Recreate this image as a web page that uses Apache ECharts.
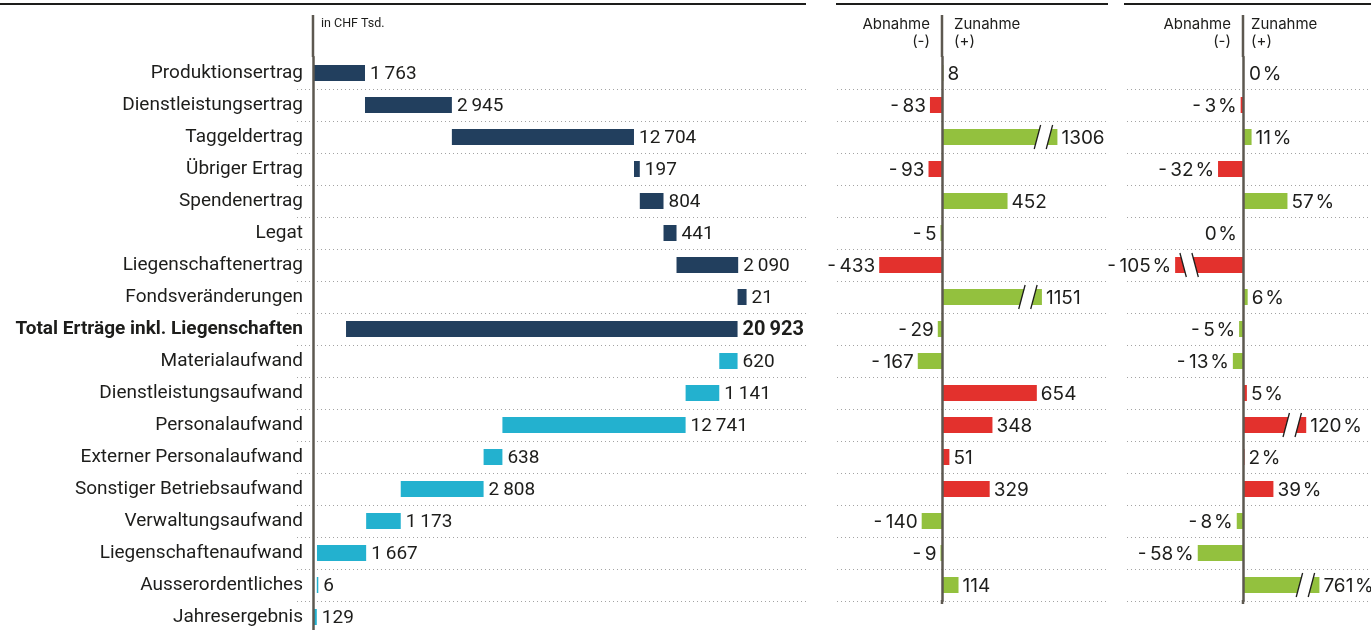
<!DOCTYPE html>
<html><head><meta charset="utf-8">
<script src="https://cdn.jsdelivr.net/npm/echarts@6/dist/echarts.min.js"></script>
<style>html,body{margin:0;padding:0;background:#fff}#c{width:1371px;height:630px}</style>
</head><body><div id="c"></div>
<script>
// ---------- data ----------
const categories = ['Produktionsertrag', 'Dienstleistungsertrag', 'Taggeldertrag', 'Übriger Ertrag', 'Spendenertrag', 'Legat', 'Liegenschaftenertrag', 'Fondsveränderungen', 'Total Erträge inkl. Liegenschaften', 'Materialaufwand', 'Dienstleistungsaufwand', 'Personalaufwand', 'Externer Personalaufwand', 'Sonstiger Betriebsaufwand', 'Verwaltungsaufwand', 'Liegenschaftenaufwand', 'Ausserordentliches', 'Jahresergebnis'];
const revenueValues = [1763, 2945, 12704, 197, 804, 441, 2090, -21]; // signed contributions (in CHF Tsd.)
const totalRevenue = 20923;
const totalBarStart = 1120; // where the total bar begins as drawn
const expenseValues = [620, 1141, 12741, 638, 2808, 1173, 1667, 6];
const resultValue = 129;
const changeAbs = [8, -83, 1306, -93, 452, -5, -433, 1151, -29, -167, 654, 348, 51, 329, -140, -9, 114];
const changePct = [0, -3, 11, -32, 57, 0, -105, 6, -5, -13, 5, 120, 2, 39, -8, -58, 761];
const favourable = [1, 0, 1, 0, 1, 1, 0, 1, 1, 1, 0, 0, 0, 0, 1, 1, 1];

// ---------- styles ----------
const NAVY = '#223f5e', CYAN = '#23b1cf', GREEN = '#93c13e', RED = '#e3312d';
const AXIS = '#5d5850', TXT = '#1d1d1b', DOT = '#a3a3a3';
const minBarPx = { 'Fondsveränderungen': 9 };
const leftBreaks = [{ start: 7000, end: 17000, gap: 3469 }];
const midBreaks = [{ start: 680, end: 1200, gap: 10 }];
const rightBreaks = [{ start: -100, end: -70, gap: 12 }, { start: 80, end: 800, gap: 19 }];

// ---------- waterfall rows ----------
const wf = [];
let cum = 0;
revenueValues.forEach(v => { wf.push([Math.min(cum, cum + v), Math.max(cum, cum + v), wf.length, Math.abs(v), 0]); cum += v; });
wf.push([totalBarStart, totalRevenue, wf.length, totalRevenue, 1]);
cum = totalRevenue;
expenseValues.forEach(v => { wf.push([cum - v, cum, wf.length, v, 2]); cum -= v; });
wf.push([0, resultValue, wf.length, resultValue, 2]);

function fmtT(n) { return String(Math.abs(n)).replace(/\B(?=(\d{3})+(?!\d))/g, '\u2009'); }
function fmtSigned(n) { return (n < 0 ? '-\u2009' : '') + Math.abs(n); }
function fmtPct(n) { return (n < 0 ? '-\u2009' : '') + Math.abs(n) + '\u200a%'; }

function txt(text, x, y, align, font) {
  return { type: 'text', style: { text, x, y, align, textAlign: align, verticalAlign: 'middle', textVerticalAlign: 'middle', font, fill: TXT } };
}

function renderWaterfall(params, api) {
  const idx = api.value(2);
  const p0 = api.coord([api.value(0), idx]);
  const p1 = api.coord([api.value(1), idx]);
  const h = api.size([0, 1])[1] * 0.5;
  const kind = api.value(4);
  const x0 = Math.min(p0[0], p1[0]);
  let w = Math.abs(p1[0] - p0[0]);
  const mw = minBarPx[categories[idx]] || 1.5;
  if (w < mw) w = mw;
  const font = (kind === 1 ? 'bold 20px' : '19px') + ' Roboto';
  return { type: 'group', children: [
    { type: 'rect', shape: { x: x0, y: p0[1] - h / 2, width: w, height: h }, style: { fill: kind === 2 ? CYAN : NAVY } },
    txt(fmtT(api.value(3)), x0 + w + 5, p0[1] + 1, 'left', font)
  ] };
}

function breakMark(end, yc, d, h) {
  const c1 = end - d * 8, c2 = end - d * 20, lean = 3.2, half = 12;
  const xs = (c, y) => c + d * lean * (yc - y) / half;
  const top = yc - h / 2, bot = yc + h / 2;
  const ln = c => ({ type: 'line', shape: { x1: xs(c, yc + half), y1: yc + half, x2: xs(c, yc - half), y2: yc - half }, style: { stroke: TXT, lineWidth: 1.3 } });
  return [
    { type: 'polygon', shape: { points: [[xs(c2, top), top], [xs(c1, top), top], [xs(c1, bot), bot], [xs(c2, bot), bot]] }, style: { fill: '#fff' } },
    ln(c1), ln(c2)
  ];
}

function makeChangeRender(values, fmt, breaks) {
  return function (params, api) {
    const i = api.value(1);
    const v = api.value(0);
    const p0 = api.coord([0, i]);
    const p1 = api.coord([v, i]);
    const h = api.size([0, 1])[1] * 0.5;
    const side = changeAbs[i] < 0 ? -1 : 1;
    const d = v < 0 ? -1 : 1;
    let w = Math.abs(p1[0] - p0[0]);
    if (v !== 0 && w < 1.5) w = 1.5;
    const end = p0[0] + d * w;
    const children = [];
    if (v !== 0) {
      children.push({ type: 'rect', shape: { x: Math.min(p0[0], end), y: p0[1] - h / 2, width: w, height: h }, style: { fill: favourable[i] ? GREEN : RED } });
      const broken = breaks.some(b => (b.start >= 0 && v > b.start) || (b.end <= 0 && v < b.end));
      if (broken) children.push(...breakMark(end, p0[1], d, h));
    }
    const lx = (v === 0 ? p0[0] + side * 2 : end) + side * 4;
    children.push(txt(fmt(v), lx, p0[1] + 1, side > 0 ? 'left' : 'right', '19px Inter'));
    return { type: 'group', children };
  };
}

const catsShort = categories.slice(0, changeAbs.length);
const hideAll = { axisLabel: { show: false }, axisTick: { show: false }, splitLine: { show: false }, axisLine: { show: false } };
const breakArea = { show: false, itemStyle: { opacity: 0, borderWidth: 0, color: 'rgba(0,0,0,0)', borderColor: 'rgba(0,0,0,0)' } };
function yAx(gridIndex, data, labels) {
  return {
    type: 'category', gridIndex, data, inverse: true,
    axisTick: { show: false },
    axisLine: { show: true, onZero: true, lineStyle: { color: AXIS, width: 2.5 } },
    axisLabel: labels ? {
      show: true, margin: -6, color: TXT, fontFamily: 'Roboto', fontSize: 19,
      formatter: v => v === categories[8] ? '{b|' + v + '}' : v,
      rich: { b: { fontWeight: 'bold', fontFamily: 'Roboto', fontSize: 19, color: TXT } }
    } : { show: false },
    splitLine: { show: true, interval: (index) => index > 0, lineStyle: { color: DOT, type: [1, 3], width: 1 } },
    z: 5
  };
}

const gridBase = { containLabel: false, outerBoundsMode: 'none' };
const chart = echarts.init(document.getElementById('c'), null, { renderer: 'canvas' });
chart.setOption({
  animation: false,
  backgroundColor: '#fff',
  grid: [
    Object.assign({ left: 297, top: 57, width: 509, height: 576 }, gridBase),
    Object.assign({ left: 837, top: 57, width: 269, height: 544 }, gridBase),
    Object.assign({ left: 1127, top: 57, width: 244, height: 544 }, gridBase)
  ],
  xAxis: [
    Object.assign({ type: 'value', gridIndex: 0, min: -542, max: 23243, breaks: leftBreaks, breakArea }, hideAll),
    Object.assign({ type: 'value', gridIndex: 1, min: -724, max: 1641, breaks: midBreaks, breakArea }, hideAll),
    Object.assign({ type: 'value', gridIndex: 2, min: -166.7, max: 865.1, breaks: rightBreaks, breakArea }, hideAll)
  ],
  yAxis: [yAx(0, categories, true), yAx(1, catsShort, false), yAx(2, catsShort, false)],
  series: [
    { type: 'custom', xAxisIndex: 0, yAxisIndex: 0, data: wf, encode: { x: [0, 1], y: 2 }, renderItem: renderWaterfall, z: 3 },
    { type: 'custom', xAxisIndex: 1, yAxisIndex: 1, data: changeAbs.map((v, i) => [v, i]), encode: { x: 0, y: 1 }, renderItem: makeChangeRender(changeAbs, fmtSigned, midBreaks), z: 3 },
    { type: 'custom', xAxisIndex: 2, yAxisIndex: 2, data: changePct.map((v, i) => [v, i]), encode: { x: 0, y: 1 }, renderItem: makeChangeRender(changePct, fmtPct, rightBreaks), z: 3 }
  ]
});

// decorations derived from the axes
const ax = [0, 1, 2].map(k => chart.convertToPixel({ xAxisIndex: k }, 0));
const gTop = 57;
const head = (text, x, y, align) => ({ type: 'text', z: 50, style: { text, x, y, align, textAlign: align, verticalAlign: 'middle', textVerticalAlign: 'middle', font: '15px Inter', fill: TXT } });
const hl = (x1, x2) => ({ type: 'line', z: 50, shape: { x1, y1: 4, x2, y2: 4 }, style: { stroke: TXT, lineWidth: 2 } });
const vl = (x, y1, y2) => ({ type: 'line', z: 50, shape: { x1: x, y1, x2: x, y2 }, style: { stroke: AXIS, lineWidth: 2.5 } });
chart.setOption({
  graphic: [
    hl(0, 806), hl(836, 1108), hl(1124, 1371),
    vl(ax[0], 15, gTop), vl(ax[1], 15, gTop), vl(ax[2], 15, gTop),
    vl(ax[1], 600, 604), vl(ax[2], 600, 604),
    { type: 'text', z: 50, style: { text: 'in CHF Tsd.', x: ax[0] + 8, y: 24, align: 'left', textAlign: 'left', verticalAlign: 'middle', textVerticalAlign: 'middle', font: '12.5px Roboto', fill: TXT } },
    head('Abnahme', ax[1] - 12, 24, 'right'), head('(-)', ax[1] - 12, 41, 'right'),
    head('Zunahme', ax[1] + 12, 24, 'left'), head('(+)', ax[1] + 12, 41, 'left'),
    head('Abnahme', ax[2] - 12, 24, 'right'), head('(-)', ax[2] - 12, 41, 'right'),
    head('Zunahme', ax[2] + 8, 24, 'left'), head('(+)', ax[2] + 8, 41, 'left')
  ]
});
</script></body></html>
